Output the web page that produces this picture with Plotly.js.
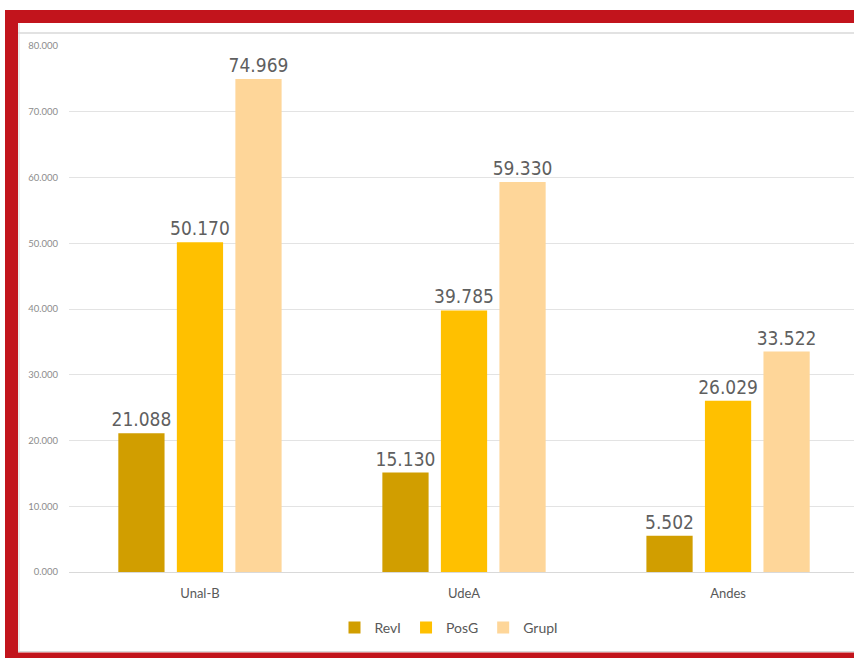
<!DOCTYPE html>
<html>
<head>
<meta charset="utf-8">
<script src="https://cdn.plot.ly/plotly-3.0.1.min.js"></script>
<style>html,body{margin:0;padding:0;background:#fff;}#chart{width:854px;height:658px;}</style>
</head>
<body>
<div id="chart"></div>
<script>
var categories = ["Unal-B", "UdeA", "Andes"];
var seriesNames = ["RevI", "PosG", "GrupI"];
var revI = [21.088, 15.130, 5.502];
var posG = [50.170, 39.785, 26.029];
var grupI = [74.969, 59.330, 33.522];
var seriesColors = ["#D19E00", "#FFC000", "#FED699"];
var yTicks = [0, 10, 20, 30, 40, 50, 60, 70, 80];

var seriesValues = [revI, posG, grupI];
var traces = seriesValues.map(function (vals, i) {
  return {
    type: "bar",
    name: seriesNames[i],
    x: categories,
    y: vals,
    marker: {color: seriesColors[i]},
    texttemplate: "%{y:.3f}",
    textposition: "outside",
    constraintext: "none",
    cliponaxis: false,
    textfont: {family: "DejaVu Sans Condensed, sans-serif", size: 19, color: "#5f5f5f"},
    hoverinfo: "none"
  };
});

// plot area: x 69..854, y 46..572 (pixels)
var L = 69, R = 854, T = 46, B = 572;
function px(x) { return (x - L) / (R - L); }
function py(y) { return (B - y) / (B - T); }
var red = "#C2141C";

var shapes = [
  {type: "rect", xref: "paper", yref: "paper", x0: px(5), x1: px(860), y0: py(10), y1: py(23), fillcolor: red, line: {width: 0}, layer: "above"},
  {type: "rect", xref: "paper", yref: "paper", x0: px(5), x1: px(18), y0: py(10), y1: py(660), fillcolor: red, line: {width: 0}, layer: "above"},
  {type: "rect", xref: "paper", yref: "paper", x0: px(5), x1: px(860), y0: py(652.5), y1: py(660), fillcolor: red, line: {width: 0}, layer: "above"},
  {type: "line", xref: "paper", yref: "paper", x0: px(18), x1: px(860), y0: py(33), y1: py(33), line: {color: "#d9d9d9", width: 1.5}},
  {type: "line", xref: "paper", yref: "paper", x0: px(19), x1: px(19), y0: py(23), y1: py(652), line: {color: "#d9d9d9", width: 1}},
  {type: "line", xref: "paper", yref: "paper", x0: px(18), x1: px(860), y0: py(651.5), y1: py(651.5), line: {color: "#d9d9d9", width: 1}}
];

var layout = {
  width: 854,
  height: 658,
  margin: {l: L, r: 854 - R, t: T, b: 658 - B, pad: 0},
  paper_bgcolor: "#ffffff",
  plot_bgcolor: "#ffffff",
  barmode: "group",
  bargap: 0.335,
  bargroupgap: 0.21,
  showlegend: true,
  legend: {
    orientation: "h",
    x: px(449), xanchor: "center",
    y: py(628), yanchor: "middle",
    font: {family: "Lato, Open Sans, sans-serif", size: 14, color: "#595959"},
    itemwidth: 30,
    traceorder: "normal"
  },
  xaxis: {
    type: "category",
    range: [-0.496, 2.477],
    showgrid: false,
    showline: false,
    zeroline: false,
    ticks: "",
    tickfont: {family: "Lato, Open Sans, sans-serif", size: 13, color: "#595959"},
    ticklabelstandoff: 12,
    fixedrange: true
  },
  yaxis: {
    range: [0, 80],
    tickvals: yTicks,
    tickformat: ".3f",
    showgrid: true,
    gridcolor: "#e3e3e3",
    gridwidth: 1,
    zeroline: true,
    zerolinecolor: "#d9d9d9",
    zerolinewidth: 1,
    showline: false,
    ticks: "",
    tickfont: {family: "Lato, Open Sans, sans-serif", size: 9.5, color: "#8c8c8c"},
    ticklabelstandoff: 10,
    fixedrange: true
  },
  shapes: shapes,
  font: {family: "Lato, sans-serif", color: "#595959"}
};

Plotly.newPlot("chart", traces, layout, {displayModeBar: false, staticPlot: true});
</script>
</body>
</html>
